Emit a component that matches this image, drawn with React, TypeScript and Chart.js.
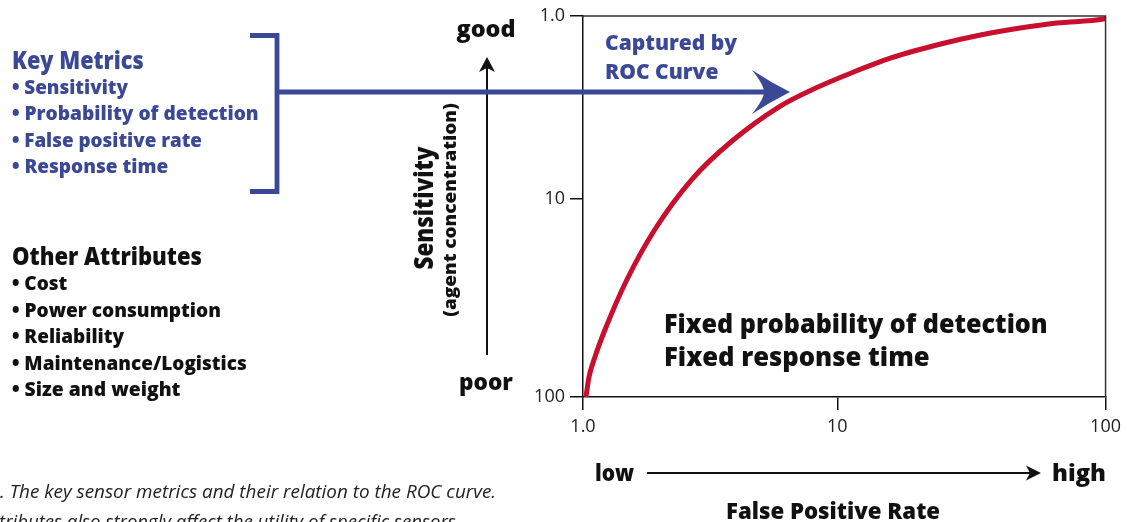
import React, { useEffect, useLayoutEffect, useRef } from "react";
import { Chart, registerables, LogarithmicScale } from "chart.js";

// Log-style axis whose middle decade sits where the reference draws it.
class SplitLogScale extends (LogarithmicScale as any) {
  static id = "splitLog";
  static defaults = (LogarithmicScale as any).defaults;
  _decimalFor(value: number) {
    const me: any = this;
    const l0 = me._startValue;
    const range = me._valueRange;
    const split = me.options.split ?? 0.5;
    const l = Math.log10(value);
    const mid = l0 + range / 2;
    if (l <= mid) return ((l - l0) / (range / 2)) * split;
    return split + ((l - mid) / (range / 2)) * (1 - split);
  }
  getPixelForValue(value: any) {
    const me: any = this;
    if (value === undefined || value === 0) value = me.min;
    if (value === null || isNaN(value)) return NaN;
    return me.getPixelForDecimal(value === me.min ? 0 : this._decimalFor(value));
  }
  getValueForPixel(pixel: number) {
    const me: any = this;
    const d = me.getDecimalForPixel(pixel);
    const split = me.options.split ?? 0.5;
    const l0 = me._startValue;
    const half = me._valueRange / 2;
    const l = d <= split ? l0 + (d / split) * half : l0 + half + ((d - split) / (1 - split)) * half;
    return Math.pow(10, l);
  }
}

Chart.register(...registerables, SplitLogScale as any);

// ---- data ----
const rocFalsePositiveRate = [1.027, 1.056, 1.114, 1.219, 1.486, 1.911, 2.666, 3.854, 5.884, 7.915, 11.27, 15.85, 24.28, 34.15, 48.02, 65.84, 98.31, 100];
const rocSensitivity = [100, 79.25, 62.8, 45.87, 25.65, 14.34, 7.875, 4.821, 3.143, 2.537, 2.049, 1.696, 1.423, 1.27, 1.163, 1.092, 1.039, 1.032];
const xTickValues = [1, 10, 100];
const xTickLabels = ["1.0", "10", "100"];
const yTickValues = [1, 10, 100];
const yTickLabels = ["1.0", "10", "100"];
const keyMetrics = ["Sensitivity", "Probability of detection", "False positive rate", "Response time"];
const otherAttributes = ["Cost", "Power consumption", "Reliability", "Maintenance/Logistics", "Size and weight"];

// ---- styles ----
const BLUE = "#3B4896";
const RED = "#C8102E";
const INK = "#111111";
const FONT = '"Open Sans", "Noto Sans", sans-serif';

const keyWidths = [116, 247, 190, 156];
const otherWidths = [55, 209, 112, 235, 168];

type TxtProps = {
  x: number;
  y: number;
  w?: number;
  size: number;
  weight?: number;
  color?: string;
  italic?: boolean;
  center?: boolean;
  rotate?: number;
  children: React.ReactNode;
};

function Txt({ x, y, w, size, weight = 800, color = INK, italic = false, center = false, rotate = 0, children }: TxtProps) {
  const ref = useRef<HTMLSpanElement>(null);
  useLayoutEffect(() => {
    const fit = () => {
      const el = ref.current;
      if (!el) return;
      const nat = el.offsetWidth;
      const k = w && nat ? w / nat : 1;
      const tx = center ? "-50%" : "0";
      el.style.transform = `translate(${tx}, -50%)${rotate ? ` rotate(${rotate}deg)` : ""} scaleX(${k})`;
    };
    fit();
    if ((document as any).fonts && (document as any).fonts.ready) {
      (document as any).fonts.ready.then(fit);
    }
  }, [w, center, rotate]);
  return (
    <span
      ref={ref}
      style={{
        position: "absolute",
        left: x,
        top: y,
        whiteSpace: "nowrap",
        fontFamily: FONT,
        fontSize: size,
        fontWeight: weight,
        fontStyle: italic ? "italic" : "normal",
        color,
        lineHeight: 1,
        transformOrigin: center ? "center center" : "left center",
      }}
    >
      {children}
    </span>
  );
}

const decorPlugin = {
  id: "decor",
  afterDraw(chart: any) {
    const { ctx, chartArea: a } = chart;
    ctx.save();
    // top and right frame of the plot
    ctx.strokeStyle = "#333";
    ctx.lineWidth = 1.5;
    ctx.beginPath();
    ctx.moveTo(a.left, a.top);
    ctx.lineTo(a.right, a.top);
    ctx.lineTo(a.right, a.bottom);
    ctx.stroke();

    // vertical good/poor arrow
    ctx.strokeStyle = INK;
    ctx.fillStyle = INK;
    ctx.lineWidth = 2;
    ctx.beginPath();
    ctx.moveTo(487, 355);
    ctx.lineTo(487, 66);
    ctx.stroke();
    ctx.beginPath();
    ctx.moveTo(487, 57);
    ctx.lineTo(479, 72);
    ctx.lineTo(487, 68);
    ctx.lineTo(495, 72);
    ctx.closePath();
    ctx.fill();

    // low -> high arrow
    ctx.beginPath();
    ctx.moveTo(647, 473);
    ctx.lineTo(1032, 473);
    ctx.stroke();
    ctx.beginPath();
    ctx.moveTo(1041, 473);
    ctx.lineTo(1026, 465.5);
    ctx.lineTo(1030, 473);
    ctx.lineTo(1026, 480.5);
    ctx.closePath();
    ctx.fill();

    // blue bracket + arrow
    ctx.strokeStyle = BLUE;
    ctx.fillStyle = BLUE;
    ctx.lineWidth = 4.8;
    ctx.lineJoin = "miter";
    ctx.beginPath();
    ctx.moveTo(250, 35.5);
    ctx.lineTo(277, 35.5);
    ctx.lineTo(277, 191.5);
    ctx.lineTo(250, 191.5);
    ctx.stroke();
    ctx.beginPath();
    ctx.moveTo(277, 92);
    ctx.lineTo(766, 92);
    ctx.stroke();
    ctx.beginPath();
    ctx.moveTo(790, 92);
    ctx.quadraticCurveTo(770, 82, 752, 70);
    ctx.quadraticCurveTo(764, 85, 764, 92);
    ctx.quadraticCurveTo(764, 99, 752, 114);
    ctx.quadraticCurveTo(770, 102, 790, 92);
    ctx.closePath();
    ctx.fill();
    ctx.restore();
  },
};

export default function App() {
  const canvasRef = useRef<HTMLCanvasElement>(null);

  useEffect(() => {
    const canvas = canvasRef.current;
    if (!canvas) return;
    const tickFont = { family: FONT, size: 18 };
    const chart = new Chart(canvas, {
      type: "line",
      data: {
        datasets: [
          {
            data: rocFalsePositiveRate.map((x, i) => ({ x, y: rocSensitivity[i] })),
            borderColor: RED,
            borderWidth: 5,
            pointRadius: 0,
            cubicInterpolationMode: "monotone",
            fill: false,
          },
        ],
      },
      options: {
        responsive: false,
        animation: false,
        maintainAspectRatio: false,
        layout: { padding: { left: 523, top: 16, right: 18, bottom: 85 } },
        plugins: { legend: { display: false }, tooltip: { enabled: false }, title: { display: false } },
        scales: {
          x: {
            type: "splitLog",
            split: 0.4867,
            min: 1,
            max: 100,
            afterFit: (s: any) => {
              s.height = 40;
            },
            afterBuildTicks: (s: any) => {
              s.ticks = xTickValues.map((v) => ({ value: v }));
            },
            ticks: {
              callback: (_v: any, i: number) => xTickLabels[i],
              font: tickFont,
              color: "#222",
              padding: 6,
              maxRotation: 0,
              autoSkip: false,
            },
            grid: { drawOnChartArea: false, drawTicks: true, tickLength: 13, color: INK, lineWidth: 1.5 },
            border: { display: true, color: INK, width: 1.5 },
          },
          y: {
            type: "splitLog",
            split: 0.4803,
            reverse: true,
            min: 1,
            max: 100,
            afterFit: (s: any) => {
              s.width = 60;
            },
            afterBuildTicks: (s: any) => {
              s.ticks = yTickValues.map((v) => ({ value: v }));
            },
            ticks: {
              callback: (_v: any, i: number) => yTickLabels[i],
              font: tickFont,
              color: "#222",
              padding: 5,
              autoSkip: false,
            },
            grid: { drawOnChartArea: false, drawTicks: true, tickLength: 13, color: INK, lineWidth: 1.5 },
            border: { display: true, color: INK, width: 1.5 },
          },
        },
      } as any,
      plugins: [decorPlugin],
    });
    return () => chart.destroy();
  }, []);

  return (
    <div style={{ position: "fixed", left: 0, top: 0, width: 1127, height: 522, overflow: "hidden", background: "#fff" }}>
      <canvas ref={canvasRef} width={1127} height={522} style={{ position: "absolute", left: 0, top: 0, width: 1127, height: 522 }} />

      <Txt x={12} y={60} w={132} size={24} color={BLUE}>Key Metrics</Txt>
      {keyMetrics.map((t, i) => (
        <Txt key={t} x={12} y={86.5 + i * 26.5} w={keyWidths[i]} size={20} color={BLUE}>
          {"• " + t}
        </Txt>
      ))}

      <Txt x={12} y={255.5} w={190} size={24}>Other Attributes</Txt>
      {otherAttributes.map((t, i) => (
        <Txt key={t} x={12} y={283 + i * 26.5} w={otherWidths[i]} size={20}>
          {"• " + t}
        </Txt>
      ))}

      <Txt x={486} y={28} w={59} size={23} center>good</Txt>
      <Txt x={486} y={381} w={54} size={23} center>poor</Txt>
      <Txt x={422.6} y={208} w={123} size={26} center rotate={-90}>Sensitivity</Txt>
      <Txt x={449.4} y={210} w={214} size={17} center rotate={-90}>(agent concentration)</Txt>

      <Txt x={605} y={42} w={132} size={21} color={BLUE}>Captured by</Txt>
      <Txt x={605} y={71} w={113} size={21} color={BLUE}>ROC Curve</Txt>

      <Txt x={664} y={323} w={384} size={26}>Fixed probability of detection</Txt>
      <Txt x={664} y={356} w={266} size={26}>Fixed response time</Txt>

      <Txt x={595} y={471.5} w={39} size={22}>low</Txt>
      <Txt x={1052} y={471.5} w={54} size={22}>high</Txt>
      <Txt x={833} y={509.5} w={214} size={22} center>False Positive Rate</Txt>

      <Txt x={0} y={491} w={496} size={19} weight={400} italic color="#222">. The key sensor metrics and their relation to the ROC curve.</Txt>
      <Txt x={-1} y={521} w={462} size={19} weight={400} italic color="#222">tributes also strongly affect the utility of specific sensors.</Txt>
    </div>
  );
}
